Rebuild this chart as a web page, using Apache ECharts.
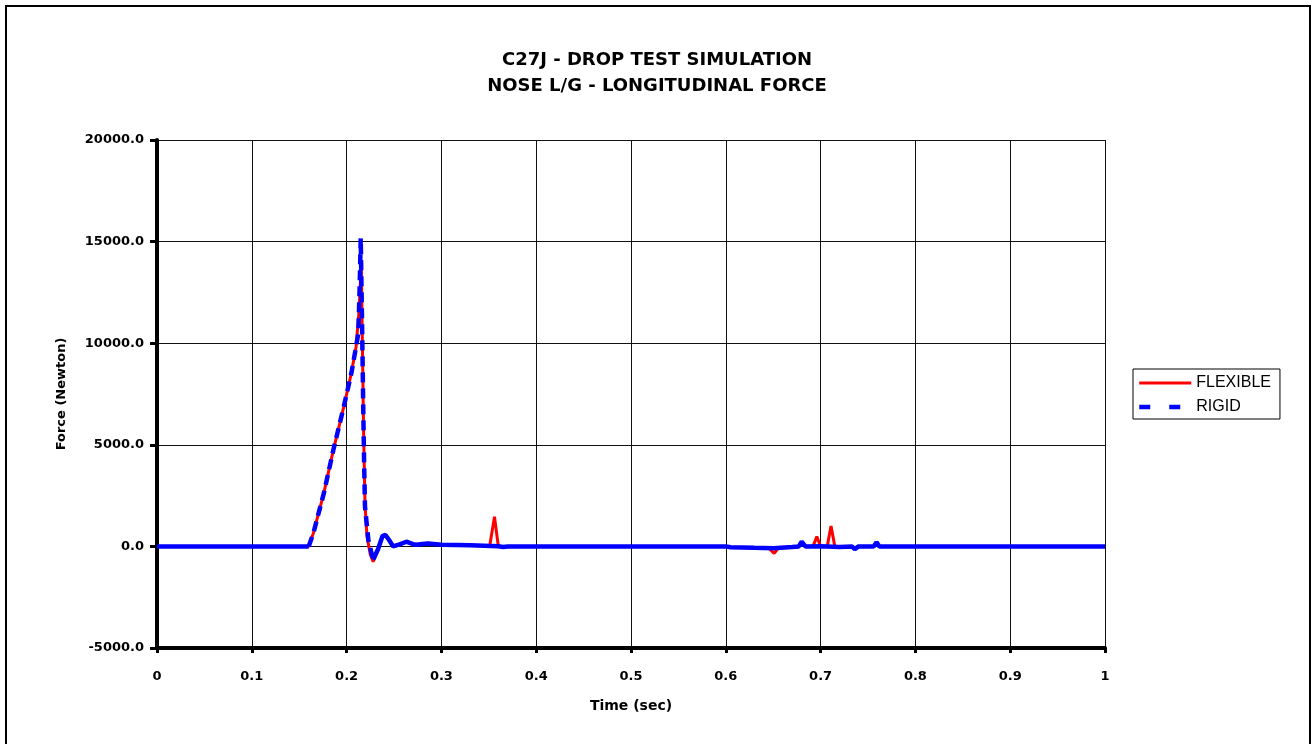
<!DOCTYPE html>
<html>
<head>
<meta charset="utf-8">
<script src="https://cdn.jsdelivr.net/npm/echarts@6/dist/echarts.min.js"></script>
<style>
  html, body { margin: 0; padding: 0; background: #fff; }
  #chart { width: 1314px; height: 744px; }
</style>
</head>
<body>
<div id="chart"></div>
<script>
// values
const flexTime = [0, 0.16, 0.165, 0.176, 0.186, 0.197, 0.205, 0.21, 0.213, 0.2155, 0.218, 0.2194, 0.2215, 0.225, 0.228, 0.233, 0.238, 0.241, 0.249, 0.256, 0.263, 0.27, 0.274, 0.28, 0.286, 0.3, 0.33, 0.351, 0.356, 0.36, 0.365, 0.37, 0.6, 0.605, 0.63, 0.645, 0.651, 0.656, 0.675, 0.68, 0.685, 0.692, 0.696, 0.7, 0.707, 0.711, 0.715, 0.733, 0.736, 0.74, 0.756, 0.759, 0.762, 0.78, 1]
const flexForce = [0, 0, 660, 2620, 4740, 6870, 8520, 9830, 11500, 13900, 5500, 2100, 500, -400, -750, -200, 500, 560, 0, 120, 230, 120, 80, 120, 150, 80, 60, 30, 1460, 20, -30, 0, 0, -40, -70, -80, -340, -60, -40, 150, 0, 0, 480, 0, 0, 1000, 0, 0, -100, 0, 0, 150, 0, 0, 0]

const rigidTime = [0, 0.16, 0.165, 0.176, 0.186, 0.197, 0.205, 0.21, 0.2124, 0.2138, 0.2149, 0.2163, 0.2175, 0.2185, 0.2194, 0.223, 0.228, 0.233, 0.238, 0.241, 0.245, 0.249, 0.256, 0.263, 0.27, 0.274, 0.28, 0.286, 0.3, 0.33, 0.36, 0.365, 0.37, 0.6, 0.605, 0.63, 0.65, 0.67, 0.677, 0.68, 0.684, 0.7, 0.72, 0.733, 0.736, 0.74, 0.756, 0.759, 0.762, 0.78, 1]
const rigidForce = [0, 0, 660, 2620, 4740, 6870, 8520, 9830, 10500, 12800, 15160, 11000, 7000, 4000, 1950, 300, -650, -150, 520, 560, 300, 0, 100, 230, 110, 80, 120, 140, 80, 60, 10, -30, 0, 0, -40, -70, -90, -30, 0, 230, 0, 10, -30, 0, -130, 0, 0, 210, 0, 0, 0]

const xTicks = [0, 0.1, 0.2, 0.3, 0.4, 0.5, 0.6, 0.7, 0.8, 0.9, 1]
const yTicks = [-5000, 0, 5000, 10000, 15000, 20000]

const flexData = flexTime.map((t, i) => [t, flexForce[i]])
const rigidData = rigidTime.map((t, i) => [t, rigidForce[i]])
// excel draws the dense flat stretches as solid, the steep peak shows dashes
const rigidDashed = rigidData.filter(d => d[0] >= 0.16 && d[0] <= 0.228)
const rigidSolid = rigidData.map(d => (d[0] > 0.16 && d[0] < 0.228) ? [d[0], '-'] : d)

const boldFont = 'DejaVu Sans'
const chart = echarts.init(document.getElementById('chart'))

chart.setOption({
    animation: false,
    backgroundColor: '#fff',
    title: {
        text: 'C27J - DROP TEST SIMULATION\nNOSE L/G - LONGITUDINAL FORCE',
        left: 'center',
        top: 42,
        textStyle: {
            fontFamily: boldFont,
            fontWeight: 'bold',
            fontSize: 18,
            lineHeight: 26,
            color: '#000'
        }
    },
    graphic: [{
        type: 'rect',
        shape: { x: 6, y: 6, width: 1304, height: 760 },
        style: { fill: 'none', stroke: '#000', lineWidth: 2 },
        silent: true
    }],
    legend: {
        data: [
            { name: 'FLEXIBLE', lineStyle: { width: 3, type: 'solid' } },
            { name: 'RIGID', lineStyle: { width: 4.5, type: [11, 19] } }
        ],
        orient: 'vertical',
        left: 1133,
        top: 369,
        padding: [6, 9, 4, 4],
        itemWidth: 52,
        itemHeight: 14,
        itemGap: 8,
        itemStyle: { color: 'transparent', borderWidth: 0 },
        borderColor: '#000',
        borderWidth: 1,
        textStyle: {
            fontFamily: 'Liberation Sans',
            fontSize: 16,
            color: '#000'
        }
    },
    grid: { left: 157, right: 209, top: 140, bottom: 96 },
    xAxis: {
        type: 'value',
        min: 0,
        max: 1,
        interval: 0.1,
        name: 'Time (sec)',
        nameLocation: 'middle',
        nameGap: 51,
        nameTextStyle: { fontFamily: boldFont, fontWeight: 'bold', fontSize: 14, color: '#000' },
        axisLine: { onZero: false, lineStyle: { color: '#000', width: 4 } },
        axisTick: { length: 5, lineStyle: { color: '#000', width: 3 } },
        axisLabel: {
            margin: 22,
            fontFamily: boldFont,
            fontWeight: 'bold',
            fontSize: 13,
            color: '#000',
            formatter: v => String(parseFloat(v.toFixed(1)))
        },
        splitLine: { show: true, lineStyle: { color: '#111', width: 1 } }
    },
    yAxis: {
        type: 'value',
        min: yTicks[0],
        max: yTicks[yTicks.length - 1],
        interval: 5000,
        name: 'Force (Newton)',
        nameLocation: 'middle',
        nameGap: 89,
        nameTextStyle: { fontFamily: boldFont, fontWeight: 'bold', fontSize: 13, color: '#000' },
        axisLine: { show: true, onZero: false, lineStyle: { color: '#000', width: 4 } },
        axisTick: { show: true, length: 7, lineStyle: { color: '#000', width: 3 } },
        axisLabel: {
            margin: 13,
            fontFamily: boldFont,
            fontWeight: 'bold',
            fontSize: 13,
            color: '#000',
            formatter: v => v.toFixed(1)
        },
        splitLine: { show: true, lineStyle: { color: '#111', width: 1 } }
    },
    series: [
        {
            name: 'FLEXIBLE',
            type: 'line',
            data: flexData,
            symbol: 'none',
            color: '#ff0000',
            lineStyle: { color: '#ff0000', width: 3 }
        },
        {
            name: 'RIGID',
            type: 'line',
            data: rigidDashed,
            symbol: 'none',
            color: '#0000ff',
            lineStyle: { color: '#0000ff', width: 4.5, type: [10, 6] }
        },
        {
            name: 'RIGID',
            type: 'line',
            data: rigidSolid,
            symbol: 'none',
            connectNulls: false,
            color: '#0000ff',
            lineStyle: { color: '#0000ff', width: 4.5 }
        }
    ]
})
</script>
</body>
</html>
